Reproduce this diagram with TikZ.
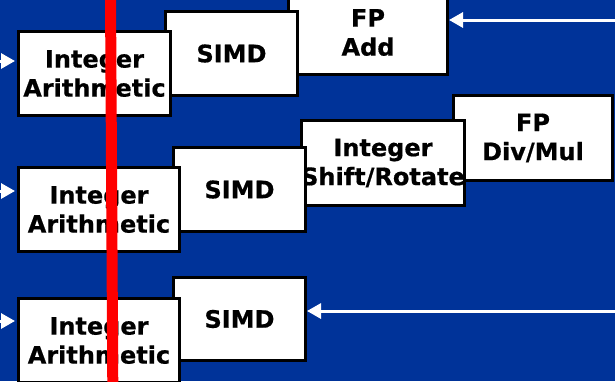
\documentclass[tikz,border=0pt]{standalone}
\usepackage{fontspec}
\setmainfont{DejaVu Sans}
\newfontfamily\heavyfont{DejaVu Sans Bold}[FakeBold=0.6]
\usetikzlibrary{arrows.meta}
\definecolor{slideblue}{RGB}{0,51,153}
\definecolor{barred}{RGB}{255,0,0}
\tikzset{
  unitbox/.style={draw=black, fill=white, line width=3pt, inner sep=0pt,
    align=center, font=\fontsize{24}{29}\selectfont\heavyfont},
  feed/.style={draw=white, line width=3pt, -{Triangle[length=14pt,width=15pt]}, white},
}
\begin{document}
\begin{tikzpicture}[x=1pt,y=-1pt]
\useasboundingbox[fill=slideblue] (0,0) rectangle (615,381);
% top row
\node[unitbox, minimum width=159pt, minimum height=84pt] (fpadd) at (368,32.5) {FP\\Add};
\node[unitbox, minimum width=132pt, minimum height=84pt] (simda) at (231.5,53.5) {SIMD};
\node[unitbox, minimum width=152pt, minimum height=84pt] (inta) at (94.5,73.5) {Integer\\Arithmetic};
% middle row
\node[unitbox, minimum width=159pt, minimum height=85pt] (fpdiv) at (533,138) {FP\\Div/Mul};
\node[unitbox, minimum width=161pt, minimum height=85pt] (shift) at (383,163) {Integer\\Shift/Rotate};
\node[unitbox, minimum width=132pt, minimum height=84pt] (simdb) at (239.5,189.5) {SIMD};
\node[unitbox, minimum width=161pt, minimum height=84pt] (intb) at (99,209.5) {Integer\\Arithmetic};
% bottom row
\node[unitbox, minimum width=132pt, minimum height=83pt] (simdc) at (239.5,319) {SIMD};
\node[unitbox, minimum width=161pt, minimum height=84pt] (intc) at (99,340.5) {Integer\\Arithmetic};
% feeds
\coordinate (ra) at (630,20);
\coordinate (rc) at (630,311);
\coordinate (la) at (-30,61);
\coordinate (lb) at (-30,191);
\coordinate (lc) at (-30,321);
\draw[feed] (ra) -- (fpadd.east |- ra);
\draw[feed] (rc) -- (simdc.east |- rc);
\draw[feed, shorten >=2pt] (la) -- (inta.west |- la);
\draw[feed, shorten >=2pt] (lb) -- (intb.west |- lb);
\draw[feed, shorten >=2pt] (lc) -- (intc.west |- lc);
% red bar
\coordinate (bartop) at (110.5,-5);
\coordinate (barbot) at (112.8,386);
\draw[barred, line width=11pt] (bartop) -- (barbot);
\end{tikzpicture}
\end{document}
